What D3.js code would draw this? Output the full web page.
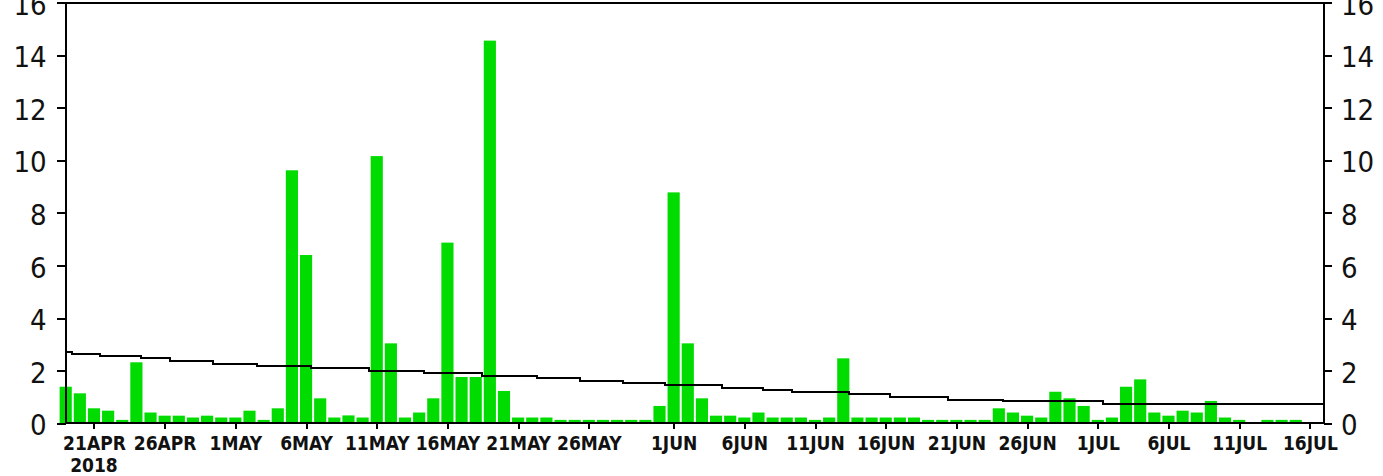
<!DOCTYPE html>
<html>
<head>
  <meta charset="UTF-8">
  <style>
    body { margin: 0; background: #fff; }
    svg { display: block; }
    .ylab { font-family: "DejaVu Sans", sans-serif; font-stretch: condensed; font-size: 29px; fill: #111; }
    .xlab { font-family: "DejaVu Sans", sans-serif; font-stretch: condensed; font-size: 19px; font-weight: bold; fill: #111; }
    .crisp { shape-rendering: crispEdges; }
  </style>
</head>
<body>
<div id="chart"></div>
<script src="https://d3js.org/d3.v7.min.js"></script>
<script>
// daily rain, one bar per day starting 19 APR 2018
var startDay = Date.UTC(2018, 3, 19);
var rain = [1.39, 1.14, 0.57, 0.48, 0.13, 2.32, 0.41, 0.29, 0.29, 0.22,
            0.29, 0.22, 0.22, 0.48, 0.13, 0.57, 9.62, 6.4, 0.95, 0.22,
            0.30, 0.22, 10.16, 3.04, 0.22, 0.41, 0.95, 6.87, 1.76, 1.76,
            14.55, 1.23, 0.22, 0.22, 0.22, 0.13, 0.13, 0.13, 0.13, 0.13,
            0.13, 0.13, 0.66, 8.78, 3.04, 0.95, 0.29, 0.29, 0.22, 0.41,
            0.22, 0.22, 0.22, 0.13, 0.22, 2.47, 0.22, 0.22, 0.22, 0.22,
            0.22, 0.13, 0.13, 0.13, 0.13, 0.13, 0.57, 0.41, 0.29, 0.22,
            1.20, 0.95, 0.66, 0.13, 0.22, 1.39, 1.67, 0.41, 0.29, 0.48,
            0.41, 0.85, 0.22, 0.13, 0, 0.13, 0.13, 0.13];

// climatology line, read as steps (days after 19 APR, value)
var climDay = [0, 0.42, 2.43, 5.32, 7.38, 10.42, 13.53, 17.35, 21.45, 25.34, 29.44, 33.33,
               36.37, 39.41, 42.38, 46.41, 49.3, 51.36, 55.4, 58.3, 62.4, 66.3, 73.4, 89];
var climVal = [2.72, 2.65, 2.56, 2.47, 2.37, 2.27, 2.19, 2.09, 1.99, 1.90, 1.81, 1.72,
               1.62, 1.55, 1.46, 1.36, 1.27, 1.18, 1.10, 0.99, 0.90, 0.83, 0.74, 0.74];

var tickDates = ["2018-04-21", "2018-04-26", "2018-05-01", "2018-05-06", "2018-05-11", "2018-05-16",
                 "2018-05-21", "2018-05-26", "2018-06-01", "2018-06-06", "2018-06-11", "2018-06-16",
                 "2018-06-21", "2018-06-26", "2018-07-01", "2018-07-06", "2018-07-11", "2018-07-16"];
var tickLabels = ["21APR", "26APR", "1MAY", "6MAY", "11MAY", "16MAY", "21MAY", "26MAY", "1JUN",
                  "6JUN", "11JUN", "16JUN", "21JUN", "26JUN", "1JUL", "6JUL", "11JUL", "16JUL"];
var yearLabel = "2018";
var yTicks = [0, 2, 4, 6, 8, 10, 12, 14, 16];

var width = 1383, height = 476;
// note: "top" is taken by window.top, so plot edges get their own names
var plotL = 65.7, plotR = 1324, plotT = 2.5, plotB = 423.3;

var svg = d3.select("#chart").append("svg")
    .attr("width", width)
    .attr("height", height);

var x = d3.scaleUtc()
    .domain([new Date(startDay), d3.utcDay.offset(new Date(startDay), 89)])
    .range([plotL, plotR]);

var y = d3.scaleLinear()
    .domain([0, 16])
    .range([plotB, plotT]);

function dayDate(i) { return new Date(startDay + i * 86400000); }

var dayW = x(dayDate(1)) - x(dayDate(0));
var barW = dayW * 0.86;

// bars
svg.append("g")
  .selectAll("rect")
  .data(rain)
  .enter()
  .append("rect")
  .attr("x", (d, i) => x(dayDate(i)) - barW / 2)
  .attr("y", d => y(d))
  .attr("width", barW)
  .attr("height", d => y(0) - y(d))
  .attr("fill", "rgb(0,220,0)");

// climatology
var climPts = climDay.map((d, i) => [d, climVal[i]]);
var line = d3.line()
    .x(d => x(dayDate(d[0])))
    .y(d => y(d[1]))
    .curve(d3.curveStepAfter);

svg.append("path")
  .attr("class", "crisp")
  .attr("d", line(climPts))
  .attr("fill", "none")
  .attr("stroke", "#000")
  .attr("stroke-width", 2);

// frame
svg.append("rect")
  .attr("class", "crisp")
  .attr("x", plotL).attr("y", plotT)
  .attr("width", plotR - plotL).attr("height", plotB - plotT)
  .attr("fill", "none")
  .attr("stroke", "#000")
  .attr("stroke-width", 2);

// left and right y axes
var yLeft = svg.append("g")
  .attr("transform", "translate(" + plotL + ",0)")
  .call(d3.axisLeft(y).tickValues(yTicks).tickSize(9).tickPadding(10).tickFormat(d3.format("d")));
var yRight = svg.append("g")
  .attr("transform", "translate(" + plotR + ",0)")
  .call(d3.axisRight(y).tickValues(yTicks).tickSize(8).tickPadding(9).tickFormat(d3.format("d")));

[yLeft, yRight].forEach(g => {
  g.select(".domain").remove();
  g.selectAll(".tick line").attr("class", "crisp").attr("stroke", "#000").attr("stroke-width", 2);
  g.selectAll(".tick text").attr("class", "ylab").attr("dy", "0.4em");
  g.attr("font-size", null).attr("font-family", null);
});

// x axis
var parse = d3.utcParse("%Y-%m-%d");
var xAxis = svg.append("g")
  .attr("transform", "translate(0," + plotB + ")")
  .call(d3.axisBottom(x)
    .tickValues(tickDates.map(parse))
    .tickSize(6)
    .tickPadding(7)
    .tickFormat((d, i) => tickLabels[i]));

xAxis.attr("font-size", null).attr("font-family", null);
xAxis.select(".domain").remove();
xAxis.selectAll(".tick line").attr("class", "crisp").attr("stroke", "#000").attr("stroke-width", 2);
xAxis.selectAll(".tick text").attr("class", "xlab");

svg.append("text")
  .attr("class", "xlab")
  .attr("x", x(parse(tickDates[0])))
  .attr("y", 472)
  .attr("text-anchor", "middle")
  .text(yearLabel);
</script>
</body>
</html>
